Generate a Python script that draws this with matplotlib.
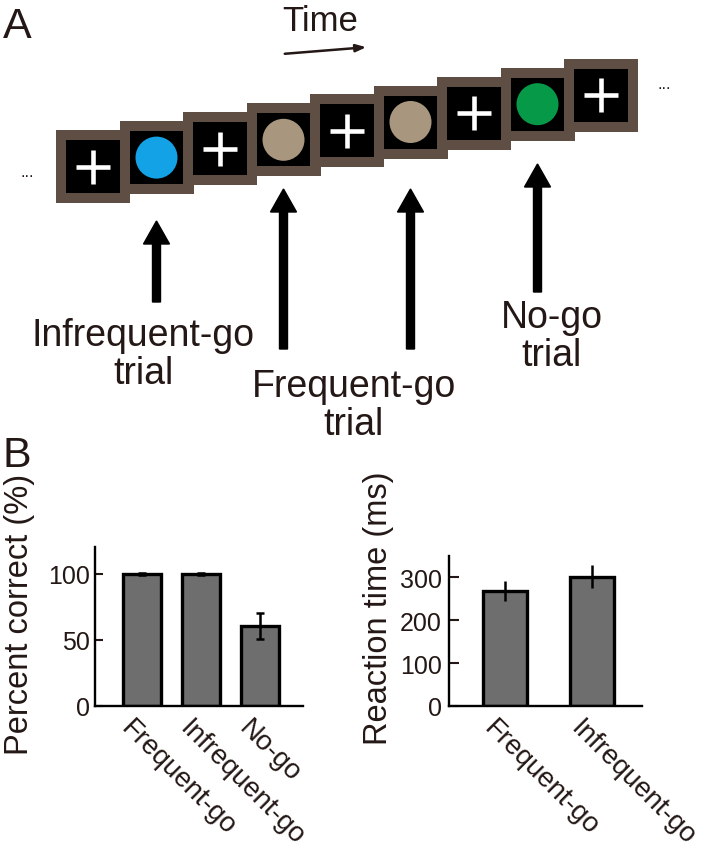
import matplotlib
matplotlib.use("Agg")
import matplotlib.pyplot as plt
import matplotlib.transforms as mtransforms
from matplotlib.patches import Rectangle, Circle, FancyArrow

plt.rcParams["font.family"] = ["Liberation Sans", "DejaVu Sans"]

# panel A: stimulus sequence
stimuli = ["+", "blue", "+", "tan", "+", "tan", "+", "green", "+"]
stim_colors = {"blue": "#14a2e6", "tan": "#a8977e", "green": "#069a48"}
trial_names = ["Infrequent-go", "Frequent-go", "Frequent-go", "No-go"]
trial_square = [1, 3, 5, 7]

# panel B data
acc_labels = ["Frequent-go", "Infrequent-go", "No-go"]
acc_mean = [99.5, 99.5, 60.5]
acc_err = [0.8, 0.8, 10]
rt_labels = ["Frequent-go", "Infrequent-go"]
rt_mean = [268, 302]
rt_err = [24, 27]

txt = "#231815"
border = "#5e4e44"
bar_col = "#6e6e6e"

fig = plt.figure(figsize=(7.04, 8.53), dpi=100)

# full-figure axes in pixel units for the schematic
axA = fig.add_axes([0, 0, 1, 1])
axA.set_xlim(0, 704)
axA.set_ylim(853, 0)
axA.axis("off")

x0, y0, dx, dy = 56, 131, 63.5, -8.9
w, h, bw = 74, 73, 10
for i, s in enumerate(stimuli):
    left, top = x0 + dx * i, y0 + dy * i
    axA.add_patch(Rectangle((left, top), w, h, facecolor=border, edgecolor="none", zorder=2 + i))
    axA.add_patch(Rectangle((left + bw, top + bw), w - 2 * bw, h - 2 * bw,
                            facecolor="black", edgecolor="none", zorder=2 + i))
    cx, cy = left + w / 2, top + h / 2
    if s == "+":
        axA.plot([cx - 17, cx + 17], [cy, cy], color="white", lw=3.3, zorder=2.5 + i,
                 solid_capstyle="butt")
        axA.plot([cx, cx], [cy - 17, cy + 17], color="white", lw=3.3, zorder=2.5 + i,
                 solid_capstyle="butt")
    else:
        axA.add_patch(Circle((cx, cy), 21, facecolor=stim_colors[s], edgecolor="none",
                             zorder=2.5 + i))

axA.text(27, 172, "...", ha="center", va="center", fontsize=12, color=txt)
axA.text(664, 84, "...", ha="center", va="center", fontsize=12, color=txt)

# arrows pointing at the trials
tips = [222, 190, 190, 165]
bottoms = [303, 350, 350, 293]
for k, sq in enumerate(trial_square):
    cx = x0 + dx * sq + w / 2
    axA.add_patch(FancyArrow(cx, bottoms[k], 0, tips[k] - bottoms[k], width=8,
                             head_width=26, head_length=23, length_includes_head=True,
                             color="black", zorder=20))

# trial labels
label_pos = [(143, 346), (354, 397), (552, 328)]
label_text = [trial_names[0], trial_names[1], trial_names[3]]
for (lx, ly), t in zip(label_pos, label_text):
    axA.text(lx, ly, t, ha="center", va="baseline", fontsize=27, color=txt)
    axA.text(lx, ly + 38, "trial", ha="center", va="baseline", fontsize=27, color=txt)

axA.text(320, 31, "Time", ha="center", va="baseline", fontsize=25, color=txt)
axA.annotate("", xy=(369, 48), xytext=(282, 55),
             arrowprops=dict(arrowstyle="-|>,head_length=0.6,head_width=0.22",
                             color=txt, lw=1.8))
axA.text(3, 38, "A", ha="left", va="baseline", fontsize=31, color=txt)
axA.text(3, 467, "B", ha="left", va="baseline", fontsize=31, color=txt)


def style_axes(ax, tick_len, pad):
    for side in ["top", "right"]:
        ax.spines[side].set_visible(False)
    for side in ["left", "bottom"]:
        ax.spines[side].set_linewidth(1.7)
    ax.set_facecolor("none")
    ax.tick_params(axis="y", direction="in", length=tick_len, width=1.5,
                   labelsize=18, pad=pad, colors=txt)
    ax.tick_params(axis="x", length=0, pad=6, labelsize=20, labelcolor=txt)
    shift = mtransforms.ScaledTranslation(-8 / 100, 0, fig.dpi_scale_trans)
    for lab in ax.get_xticklabels():
        lab.set_rotation(-45)
        lab.set_ha("left")
        lab.set_va("top")
        lab.set_rotation_mode("anchor")
        lab.set_transform(lab.get_transform() + shift)


# percent correct
ax1 = fig.add_axes([95 / 704, 1 - 707 / 853, 208 / 704, 159 / 853])
xs1 = list(range(len(acc_labels)))
ax1.bar(xs1, acc_mean, width=0.64, color=bar_col, edgecolor="black", linewidth=2.4, zorder=2)
ax1.errorbar(xs1, acc_mean, yerr=acc_err, fmt="none", ecolor="black", elinewidth=1.8,
             capsize=3, capthick=1.8, zorder=3)
ax1.set_xlim(-0.8, 2.73)
ax1.set_ylim(0, 120)
ax1.set_yticks([0, 50, 100])
ax1.set_xticks(xs1, acc_labels)
style_axes(ax1, 6, 3.5)
ax1.set_ylabel("Percent correct (%)", fontsize=23.5, color=txt)
ax1.yaxis.set_label_coords(-0.288, 0.585)

# reaction time
ax2 = fig.add_axes([449 / 704, 1 - 707 / 853, 193 / 704, 150 / 853])
xs2 = list(range(len(rt_labels)))
ax2.bar(xs2, rt_mean, width=0.5, color=bar_col, edgecolor="black", linewidth=2.4, zorder=2)
ax2.errorbar(xs2, rt_mean, yerr=rt_err, fmt="none", ecolor="black", elinewidth=1.8,
             capsize=0, zorder=3)
ax2.set_xlim(-0.644, 1.575)
ax2.set_ylim(0, 350)
ax2.set_yticks([0, 100, 200, 300])
ax2.set_xticks(xs2, rt_labels)
style_axes(ax2, 7.5, 5)
ax2.set_ylabel("Reaction time (ms)", fontsize=23.5, color=txt)
ax2.yaxis.set_label_coords(-0.285, 0.66)

fig.savefig("out.png", dpi=100)
